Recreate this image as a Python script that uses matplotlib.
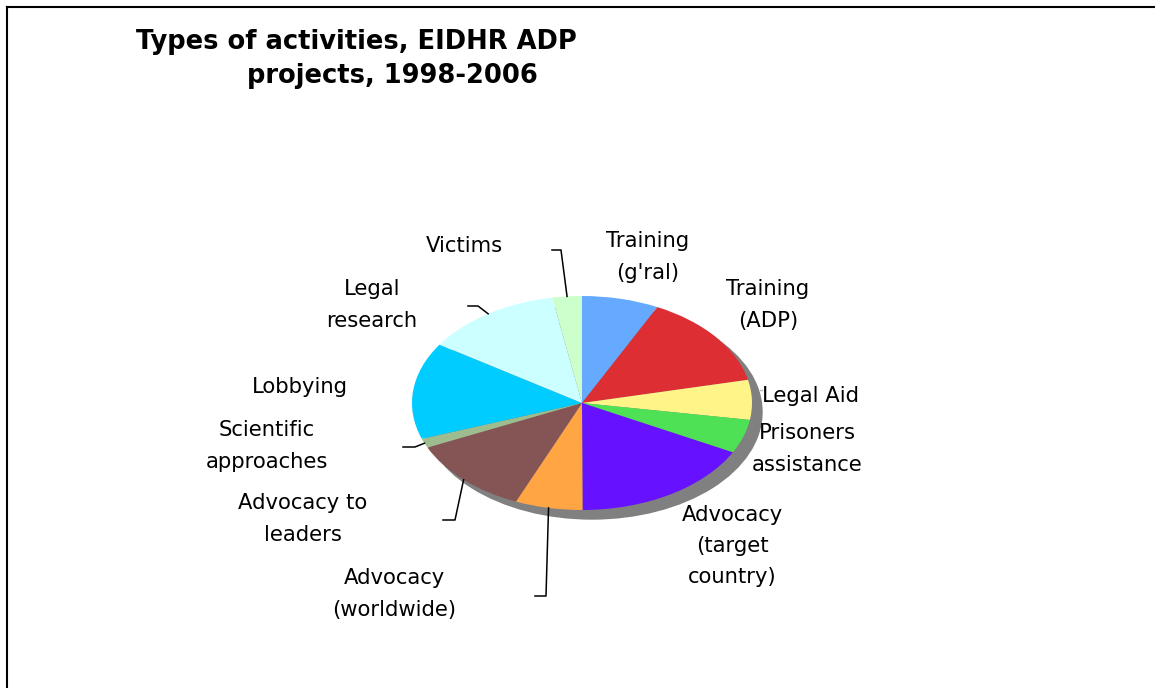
import matplotlib
matplotlib.use("Agg")
import matplotlib.pyplot as plt
import numpy as np
from matplotlib.patches import Ellipse
from matplotlib.lines import Line2D

# share of activities (percent), clockwise from 12 o'clock
labels = ["Training\n(g'ral)", "Training\n(ADP)", "Legal Aid", "Prisoners\nassistance",
          "Advocacy\n(target\ncountry)", "Advocacy\n(worldwide)", "Advocacy to\nleaders",
          "Scientific\napproaches", "Lobbying", "Legal\nresearch", "Victims"]
shares = [7.3, 14.2, 6.0, 5.1, 17.3, 6.4, 11.8, 1.4, 14.6, 13.0, 2.8]
colors = ["#66AAFF", "#DD2E33", "#FFF488", "#4EE055", "#6611FF", "#FFA544",
          "#855555", "#9DBD8E", "#00CCFF", "#CCFFFF", "#CCFFCC"]

W, H = 1155, 688
CX, CY, RX, RY = 582, 403, 170, 107   # pie centre / radii in pixels

fig = plt.figure(figsize=(W / 100, H / 100), dpi=100)
lim = 1.25
ax = fig.add_axes([(CX - lim * RX) / W, (H - CY - lim * RY) / H,
                   2 * lim * RX / W, 2 * lim * RY / H])

# shadow
ax.add_patch(Ellipse((10 / RX, -9 / RY), 2, 2, color="#808080", zorder=0))

wedges, _ = ax.pie(shares, colors=colors, startangle=90, counterclock=False,
                   wedgeprops=dict(linewidth=0))
ax.set_aspect("auto")
ax.set_xlim(-lim, lim)
ax.set_ylim(-lim, lim)
ax.axis("off")


def to_data(px, py):
    return (px - CX) / RX, (CY - py) / RY


# label positions (pixels, centre of text block)
label_pos = [(648, 257), (768, 305), (811, 396), (807, 449), (732, 546),
             (394, 594), (303, 519), (267, 446), (300, 387), (372, 305), (464, 246)]
for lab, (x, y) in zip(labels, label_pos):
    fig.text(x / W, 1 - y / H, lab, ha="center", va="center", fontsize=15.2,
             family="DejaVu Sans", linespacing=1.7)

# leader lines: wedge index -> (elbow, end) in pixels
leaders = {10: ((561, 250), (552, 250)),
           9: ((478, 306), (468, 306)),
           7: ((415, 447), (403, 447)),
           6: ((455, 520), (443, 520)),
           5: ((546, 596), (535, 596))}
mids = np.cumsum(shares) - np.array(shares) / 2
for i, (elbow, end) in leaders.items():
    a = np.deg2rad(mids[i] / sum(shares) * 360)
    x0, y0 = np.sin(a), np.cos(a)
    x1, y1 = to_data(*elbow)
    x2, y2 = to_data(*end)
    ax.plot([x0, x1, x2], [y0, y1, y2], color="black", lw=1.1, clip_on=False, zorder=5)

for i, end in [(2, (762, 390)), (3, (760, 428))]:
    x1, y1 = to_data(*end)
    x0 = 1.0 + 8 / RX
    ax.plot([x0, x1], [y1, y1], color="#bbbbbb", lw=1, clip_on=False, zorder=5)

# title
fig.text(356 / W, 1 - 42 / H, "Types of activities, EIDHR ADP", ha="center", va="center",
         fontsize=18.5, fontweight="heavy", family="DejaVu Sans")
fig.text(392 / W, 1 - 76 / H, "projects, 1998-2006", ha="center", va="center",
         fontsize=18.5, fontweight="heavy", family="DejaVu Sans")

# frame
fig.add_artist(Line2D([7 / W, 1], [1 - 7 / H, 1 - 7 / H], color="black", lw=1.5))
fig.add_artist(Line2D([7 / W, 7 / W], [0, 1 - 7 / H], color="black", lw=1.5))

fig.savefig("out.png", dpi=100)
